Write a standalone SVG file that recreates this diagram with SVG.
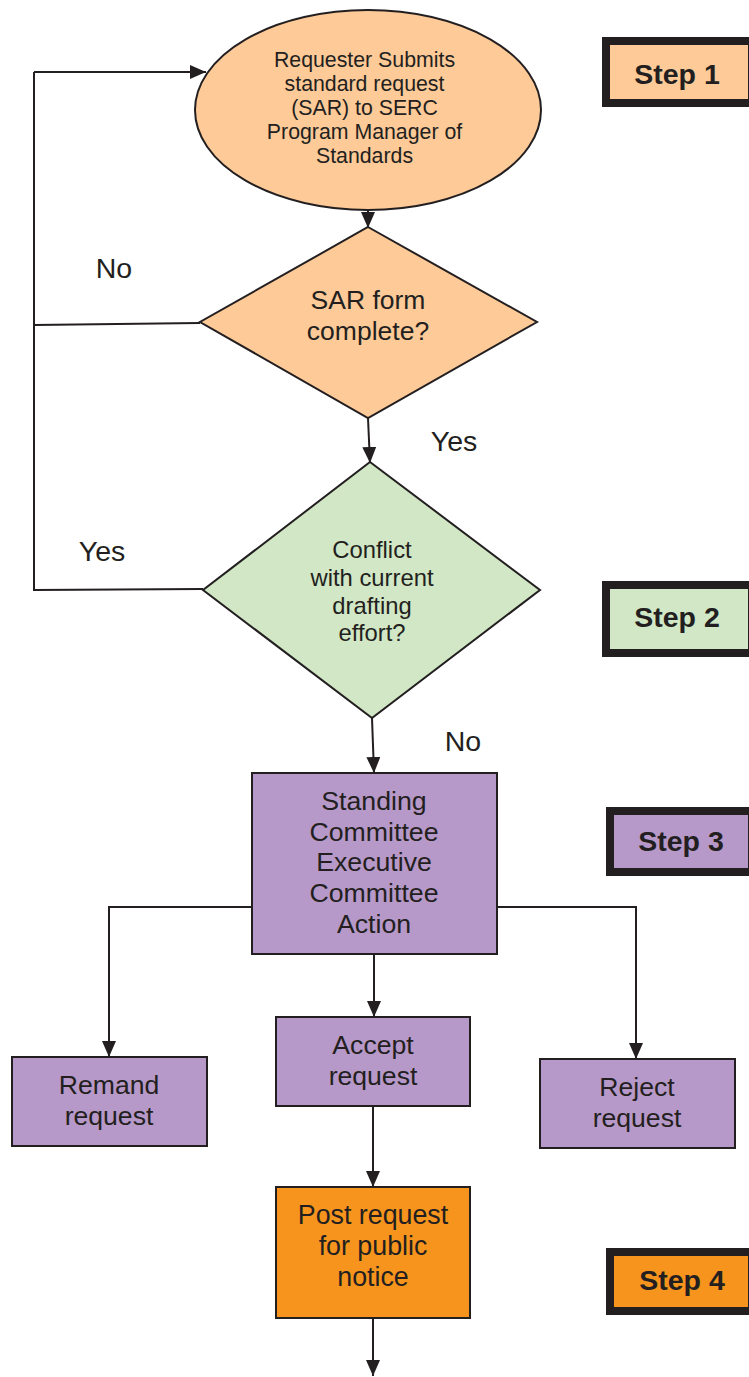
<svg xmlns="http://www.w3.org/2000/svg" width="749" height="1377" viewBox="0 0 749 1377">
<defs>
<style>
text{font-family:'Liberation Sans',Arial,Helvetica,sans-serif}
.t{fill:#231f20;text-anchor:middle}
.s{stroke:#231f20;stroke-width:2}
.step{stroke:#231f20;stroke-width:8}
.ln{fill:none;stroke:#231f20;stroke-width:2}
.peach{fill:#fdca98}
.green{fill:#d1e7c5}
.purple{fill:#b799c9}
.orange{fill:#f7941d}
</style>
<marker id="ahb" viewBox="0 0 16 14" refX="16" refY="7" markerWidth="16" markerHeight="14" markerUnits="userSpaceOnUse" orient="auto">
<path d="M0,0 L16,7 L0,14 Z" fill="#231f20"/>
</marker>
</defs>
<rect width="749" height="1377" fill="#ffffff"/>

<g id="connectors">
<path class="ln" d="M200,323 L34,325 M34,72 L34,590 L203,589"/>
<line class="ln" x1="34" y1="72" x2="206" y2="72" marker-end="url(#ahb)"/>
<line class="ln" x1="368" y1="210" x2="368" y2="228" marker-end="url(#ahb)"/>
<line class="ln" x1="368" y1="418" x2="370" y2="463" marker-end="url(#ahb)"/>
<line class="ln" x1="372" y1="718" x2="374" y2="773" marker-end="url(#ahb)"/>
<polyline class="ln" points="252,907 109,907 109,1057" marker-end="url(#ahb)"/>
<polyline class="ln" points="497,907 636,907 636,1059" marker-end="url(#ahb)"/>
<line class="ln" x1="374" y1="954" x2="374" y2="1017" marker-end="url(#ahb)"/>
<line class="ln" x1="373" y1="1106" x2="373" y2="1187" marker-end="url(#ahb)"/>
<line class="ln" x1="373" y1="1318" x2="373" y2="1376" marker-end="url(#ahb)"/>
</g>

<g id="labels">
<text class="t" x="114" y="278" font-size="28.5" font-family="Liberation Sans, Arial, sans-serif">No</text>
<text class="t" x="454" y="451" font-size="28.5" font-family="Liberation Sans, Arial, sans-serif">Yes</text>
<text class="t" x="102" y="561" font-size="28.5" font-family="Liberation Sans, Arial, sans-serif">Yes</text>
<text class="t" x="463" y="751" font-size="28.5" font-family="Liberation Sans, Arial, sans-serif">No</text>
</g>

<g id="n-submit">
<ellipse class="peach s" cx="368" cy="110" rx="173" ry="100"/>
<text class="t" font-size="21.3" font-family="Liberation Sans, Arial, sans-serif"><tspan x="364.5" y="67">Requester Submits</tspan><tspan x="364.5" y="91">standard request</tspan><tspan x="364.5" y="115">(SAR) to SERC</tspan><tspan x="364.5" y="139">Program Manager of</tspan><tspan x="364.5" y="163">Standards</tspan></text>
</g>

<g id="n-complete">
<polygon class="peach s" points="368,227 537,322 368,418 200,322"/>
<text class="t" font-size="26.5" font-family="Liberation Sans, Arial, sans-serif"><tspan x="368" y="309">SAR form</tspan><tspan x="368" y="340">complete?</tspan></text>
</g>

<g id="n-conflict">
<polygon class="green s" points="370,462 540,590 372,718 203,590"/>
<text class="t" font-size="23.8" font-family="Liberation Sans, Arial, sans-serif"><tspan x="372" y="558">Conflict</tspan><tspan x="372" y="586">with current</tspan><tspan x="372" y="614">drafting</tspan><tspan x="372" y="641">effort?</tspan></text>
</g>

<g id="n-committee">
<rect class="purple s" x="252" y="773" width="245" height="181"/>
<text class="t" font-size="26.7" font-family="Liberation Sans, Arial, sans-serif"><tspan x="374" y="810">Standing</tspan><tspan x="374" y="841">Committee</tspan><tspan x="374" y="871">Executive</tspan><tspan x="374" y="902">Committee</tspan><tspan x="374" y="933">Action</tspan></text>
</g>

<g id="n-remand">
<rect class="purple s" x="12" y="1057" width="195" height="89"/>
<text class="t" font-size="26.6" font-family="Liberation Sans, Arial, sans-serif"><tspan x="109" y="1094">Remand</tspan><tspan x="109" y="1125">request</tspan></text>
</g>

<g id="n-accept">
<rect class="purple s" x="276" y="1017" width="194" height="89"/>
<text class="t" font-size="26.6" font-family="Liberation Sans, Arial, sans-serif"><tspan x="373" y="1054">Accept</tspan><tspan x="373" y="1085">request</tspan></text>
</g>

<g id="n-reject">
<rect class="purple s" x="540" y="1059" width="195" height="89"/>
<text class="t" font-size="26.6" font-family="Liberation Sans, Arial, sans-serif"><tspan x="637" y="1096">Reject</tspan><tspan x="637" y="1127">request</tspan></text>
</g>

<g id="n-post">
<rect class="orange s" x="276" y="1187" width="194" height="131"/>
<text class="t" font-size="26.8" font-family="Liberation Sans, Arial, sans-serif"><tspan x="373" y="1224">Post request</tspan><tspan x="373" y="1255">for public</tspan><tspan x="373" y="1286">notice</tspan></text>
</g>

<g id="step1">
<rect class="step peach" x="606" y="41" width="146" height="62"/>
<text class="t" x="677" y="84" font-size="28.5" font-weight="bold" font-family="Liberation Sans, Arial, sans-serif">Step 1</text>
</g>
<g id="step2">
<rect class="step green" x="606" y="585" width="146" height="68"/>
<text class="t" x="677" y="627" font-size="28.5" font-weight="bold" font-family="Liberation Sans, Arial, sans-serif">Step 2</text>
</g>
<g id="step3">
<rect class="step purple" x="610" y="811" width="142" height="61"/>
<text class="t" x="681" y="851" font-size="28.5" font-weight="bold" font-family="Liberation Sans, Arial, sans-serif">Step 3</text>
</g>
<g id="step4">
<rect class="step orange" x="610" y="1252" width="142" height="59"/>
<text class="t" x="682" y="1290" font-size="28.5" font-weight="bold" font-family="Liberation Sans, Arial, sans-serif">Step 4</text>
</g>
</svg>
